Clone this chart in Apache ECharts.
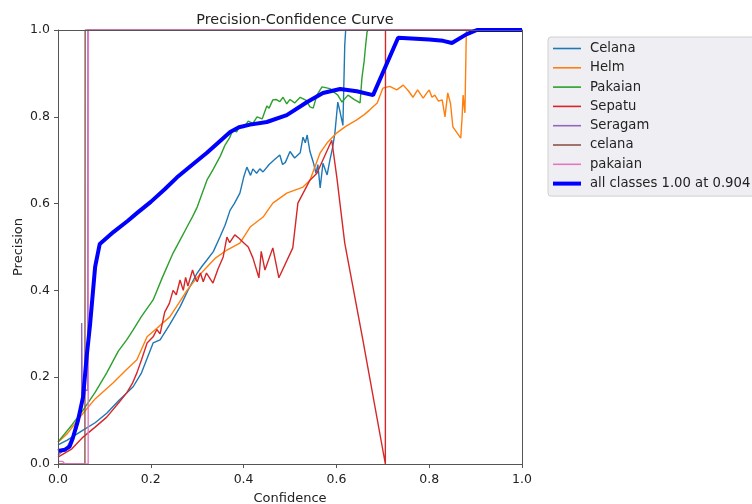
<!DOCTYPE html>
<html>
<head>
<meta charset="utf-8">
<script src="https://cdn.jsdelivr.net/npm/echarts@6/dist/echarts.min.js"></script>
<style>
  html, body {margin: 0; padding: 0; background: #fff;}
  #main {width: 752px; height: 504px;}
</style>
</head>
<body>
<div id="main"></div>
<script>
// [confidence, precision] pairs
let celanaBig = [[0,0.044],[0.02,0.055],[0.054,0.078],[0.08,0.095],[0.105,0.117],[0.13,0.145],[0.162,0.178],[0.18,0.21],[0.205,0.279],[0.22,0.286],[0.24,0.32],[0.263,0.362],[0.28,0.40],[0.30,0.44],[0.31,0.455],[0.321,0.47],[0.335,0.49],[0.349,0.523],[0.36,0.55],[0.371,0.585],[0.38,0.60],[0.392,0.624],[0.40,0.66],[0.407,0.684],[0.415,0.665],[0.42,0.68],[0.428,0.67],[0.435,0.68],[0.442,0.673],[0.455,0.69],[0.465,0.70],[0.478,0.712],[0.484,0.69],[0.49,0.695],[0.50,0.72],[0.51,0.705],[0.522,0.717],[0.528,0.753],[0.533,0.74],[0.537,0.758],[0.543,0.72],[0.55,0.696],[0.556,0.67],[0.56,0.69],[0.565,0.636],[0.571,0.693],[0.58,0.666],[0.586,0.70],[0.592,0.73],[0.597,0.765],[0.603,0.834],[0.608,0.811],[0.614,0.78],[0.618,0.965],[0.62,1],[1,1]];
let helm = [[0,0.05],[0.02,0.07],[0.054,0.117],[0.08,0.15],[0.119,0.187],[0.145,0.215],[0.17,0.24],[0.192,0.293],[0.21,0.31],[0.241,0.339],[0.26,0.37],[0.278,0.40],[0.30,0.43],[0.321,0.454],[0.34,0.475],[0.364,0.493],[0.392,0.509],[0.414,0.546],[0.442,0.569],[0.463,0.601],[0.493,0.624],[0.528,0.638],[0.543,0.654],[0.565,0.717],[0.58,0.74],[0.601,0.763],[0.62,0.778],[0.644,0.793],[0.66,0.805],[0.672,0.816],[0.688,0.832],[0.70,0.866],[0.715,0.87],[0.73,0.862],[0.744,0.873],[0.755,0.86],[0.765,0.845],[0.775,0.862],[0.787,0.843],[0.795,0.855],[0.80,0.862],[0.806,0.845],[0.812,0.85],[0.82,0.836],[0.828,0.839],[0.834,0.80],[0.84,0.855],[0.846,0.83],[0.851,0.777],[0.868,0.751],[0.871,0.80],[0.873,0.85],[0.877,0.809],[0.88,0.995],[0.882,1],[1,1]];
let pakaianBig = [[0,0.051],[0.03,0.09],[0.054,0.124],[0.08,0.165],[0.105,0.21],[0.13,0.26],[0.148,0.286],[0.162,0.309],[0.18,0.34],[0.205,0.378],[0.225,0.43],[0.248,0.486],[0.265,0.52],[0.278,0.546],[0.29,0.57],[0.30,0.592],[0.321,0.654],[0.335,0.68],[0.35,0.71],[0.36,0.735],[0.37,0.752],[0.377,0.77],[0.385,0.765],[0.392,0.78],[0.40,0.775],[0.41,0.79],[0.42,0.785],[0.429,0.80],[0.44,0.795],[0.45,0.825],[0.455,0.82],[0.463,0.839],[0.47,0.84],[0.478,0.835],[0.485,0.845],[0.493,0.83],[0.50,0.84],[0.51,0.832],[0.522,0.845],[0.535,0.838],[0.543,0.823],[0.55,0.82],[0.558,0.85],[0.569,0.869],[0.586,0.865],[0.597,0.855],[0.603,0.85],[0.612,0.834],[0.625,0.85],[0.638,0.84],[0.651,0.832],[0.655,0.889],[0.66,0.93],[0.662,0.954],[0.666,0.995],[0.668,1],[1,1]];
let sepatu = [[0,0.016],[0.03,0.035],[0.054,0.062],[0.08,0.085],[0.105,0.108],[0.13,0.14],[0.148,0.164],[0.16,0.185],[0.17,0.21],[0.18,0.24],[0.192,0.279],[0.205,0.293],[0.213,0.31],[0.22,0.30],[0.23,0.35],[0.24,0.37],[0.248,0.40],[0.255,0.39],[0.263,0.424],[0.27,0.40],[0.275,0.43],[0.28,0.41],[0.29,0.447],[0.295,0.43],[0.30,0.42],[0.307,0.44],[0.313,0.42],[0.32,0.44],[0.334,0.417],[0.345,0.45],[0.356,0.477],[0.364,0.523],[0.37,0.51],[0.381,0.528],[0.39,0.52],[0.40,0.51],[0.41,0.50],[0.42,0.475],[0.433,0.429],[0.438,0.49],[0.442,0.493],[0.446,0.447],[0.463,0.498],[0.476,0.429],[0.506,0.498],[0.517,0.601],[0.543,0.654],[0.558,0.67],[0.59,0.746],[0.601,0.66],[0.618,0.509],[0.657,0.286],[0.7055,0],[0.7058,1],[1,1]];
let seragam = [[0,0.02],[0.02,0.04],[0.04,0.08],[0.05,0.13],[0.051,0.154],[0.051,0.325],[0.052,0.17],[0.064,0.17],[0.0645,1],[1,1]];
let celanaSmall = [[0,0],[0.058,0],[0.0585,1],[1,1]];
let pakaianSmall = [[0,0.006],[0.01,0.006],[0.015,0],[0.065,0],[0.0655,1],[1,1]];
let allClasses = [[0,0.03],[0.015,0.033],[0.025,0.04],[0.032,0.06],[0.043,0.1],[0.054,0.154],[0.062,0.25],[0.069,0.32],[0.08,0.454],[0.09,0.507],[0.12,0.535],[0.15,0.56],[0.17,0.578],[0.2,0.604],[0.23,0.633],[0.256,0.66],[0.29,0.69],[0.321,0.717],[0.35,0.745],[0.371,0.765],[0.39,0.776],[0.414,0.782],[0.45,0.788],[0.493,0.804],[0.537,0.834],[0.571,0.855],[0.608,0.864],[0.644,0.859],[0.679,0.85],[0.733,0.982],[0.80,0.978],[0.83,0.975],[0.849,0.97],[0.88,0.99],[0.903,1],[1,1]];
let ticks = [0, 0.2, 0.4, 0.6, 0.8, 1.0];

let names = ['Celana', 'Helm', 'Pakaian', 'Sepatu', 'Seragam', 'celana', 'pakaian', 'all classes 1.00 at 0.904'];
let colors = ['#1f77b4', '#ff7f0e', '#2ca02c', '#d62728', '#9467bd', '#8c564b', '#e377c2', '#0000ff'];
let curves = [celanaBig, helm, pakaianBig, sepatu, seragam, celanaSmall, pakaianSmall, allClasses];

let font = 'DejaVu Sans';
let thinIcon = 'path://M0,0L28,0L28,1.6L0,1.6Z';
let thickIcon = 'path://M0,0L28,0L28,4L0,4Z';
let chart = echarts.init(document.getElementById('main'), null, {renderer: 'canvas'});

let series = curves.map((d, i) => ({
    name: names[i],
    type: 'line',
    data: d,
    symbol: 'none',
    animation: false,
    lineStyle: {color: colors[i], width: i === 7 ? 4 : 1.4},
    itemStyle: {color: colors[i]},
    z: i === 7 ? 10 : 2
}));

// plain box spines, drawn over the curves
let spine = {show: true, onZero: false, lineStyle: {color: '#555', width: 1}};

chart.setOption({
    backgroundColor: '#fff',
    title: {
        text: 'Precision-Confidence Curve',
        left: 290, top: 8, textAlign: 'center',
        textStyle: {fontFamily: font, fontSize: 14.4, fontWeight: 'normal', color: '#222'}
    },
    legend: {
        orient: 'vertical',
        left: 548, top: 37,
        padding: [5, 8, 6, 5],
        itemWidth: 28, itemHeight: 12, itemGap: 6.3,
        symbolKeepAspect: true,
        backgroundColor: '#efeff3',
        borderColor: '#cfcfcf', borderWidth: 1, borderRadius: 3,
        textStyle: {fontFamily: font, fontSize: 13.2, color: '#222', lineHeight: 12, padding: [0, 0, 0, 4]},
        data: names.map((n, i) => ({name: n, icon: i === 7 ? thickIcon : thinIcon}))
    },
    grid: {left: 58, right: 230, top: 30, bottom: 40, outerBoundsMode: 'none', containLabel: false},
    xAxis: [{
        type: 'value', min: 0, max: 1, interval: 0.2, z: 20,
        name: 'Confidence', nameLocation: 'middle', nameGap: 28,
        nameTextStyle: {fontFamily: font, fontSize: 13, color: '#222'},
        axisLine: spine,
        axisTick: {show: true, length: 4, lineStyle: {color: '#555'}},
        axisLabel: {fontFamily: font, fontSize: 12.5, color: '#222', margin: 9,
            formatter: v => ticks.includes(v) ? v.toFixed(1) : ''},
        splitLine: {show: false}
    }, {
        type: 'value', min: 0, max: 1, position: 'top', z: 20,
        axisLine: spine, axisTick: {show: false}, axisLabel: {show: false}, splitLine: {show: false}
    }],
    yAxis: [{
        type: 'value', min: 0, max: 1, interval: 0.2, z: 20,
        name: 'Precision', nameLocation: 'middle', nameGap: 33, nameRotate: 90,
        nameMoveOverlap: false,
        nameTextStyle: {fontFamily: font, fontSize: 13, color: '#222'},
        axisLine: spine,
        axisTick: {show: true, length: 4, lineStyle: {color: '#555'}},
        axisLabel: {fontFamily: font, fontSize: 12.5, color: '#222', margin: 8,
            formatter: v => v.toFixed(1)},
        splitLine: {show: false}
    }, {
        type: 'value', min: 0, max: 1, position: 'right', z: 20,
        axisLine: spine, axisTick: {show: false}, axisLabel: {show: false}, splitLine: {show: false}
    }],
    series: series
});
</script>
</body>
</html>
